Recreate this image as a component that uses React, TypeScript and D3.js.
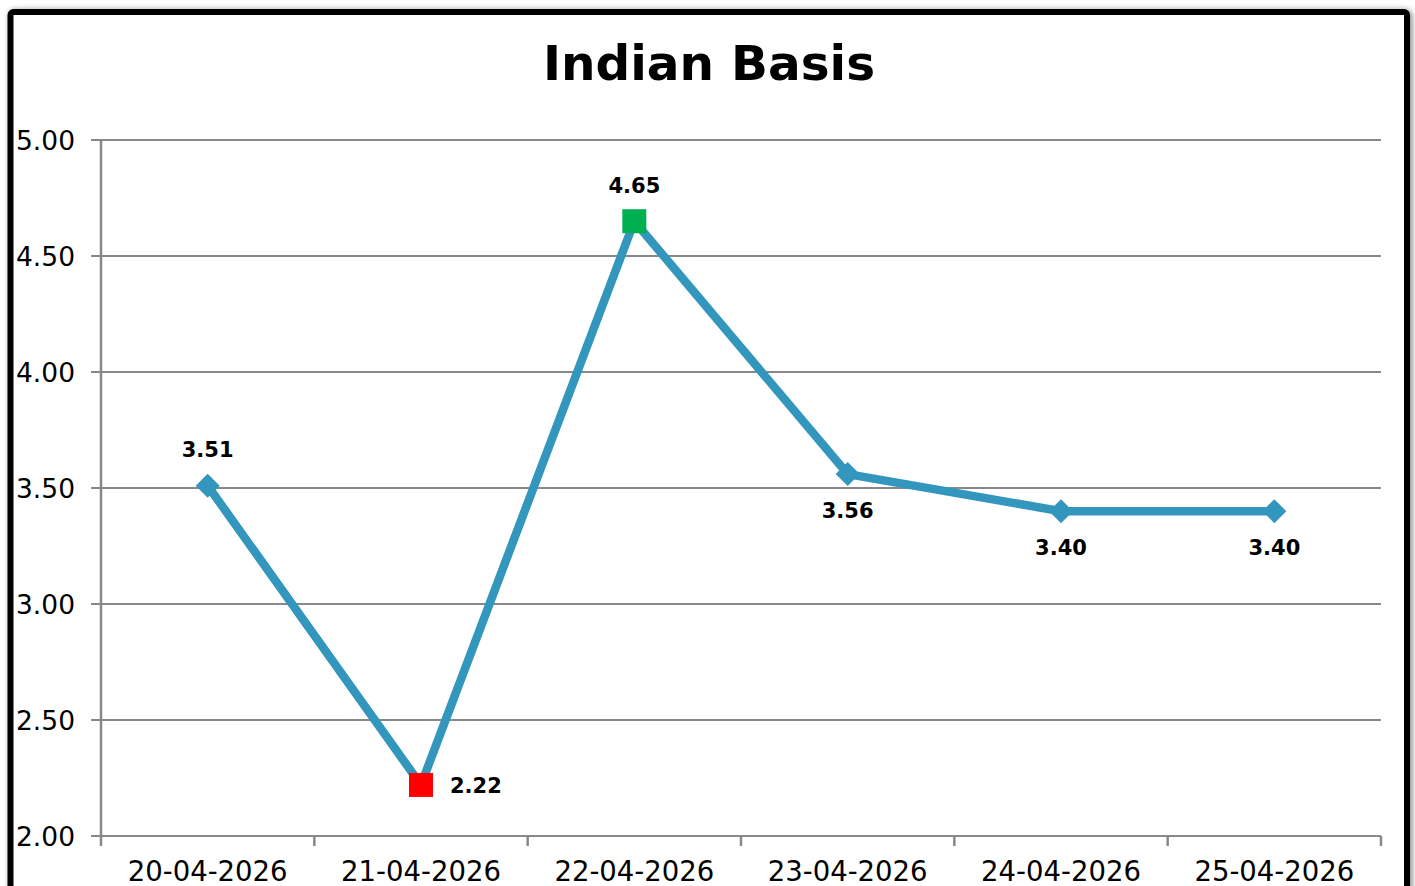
import { useEffect, useRef } from "react";
import * as d3 from "d3";

const dates = ["20-04-2026", "21-04-2026", "22-04-2026", "23-04-2026", "24-04-2026", "25-04-2026"];
const basis = [3.51, 2.22, 4.65, 3.56, 3.4, 3.4];
const yTicks = [2.0, 2.5, 3.0, 3.5, 4.0, 4.5, 5.0];
// where each value label sits relative to its marker
const labelSide = ["top", "right", "top", "bottom", "bottom", "bottom"];

const W = 1415;
const H = 886;
const FONT = "'DejaVu Sans', Verdana, sans-serif";

const App = () => {
  const ref = useRef<SVGSVGElement>(null);

  useEffect(() => {
    if (!ref.current) return;
    const svg = d3.select(ref.current);
    svg.selectAll("*").remove();

    const left = 101;
    const right = 1381;
    const top = 140;
    const bottom = 836;

    const x = d3.scaleBand<string>().domain(dates).range([left, right]);
    const y = d3.scaleLinear().domain([2, 5]).range([bottom, top]);
    const cx = (d: string) => (x(d) ?? 0) + x.bandwidth() / 2;

    const defs = svg.append("defs");
    const f = defs
      .append("filter")
      .attr("id", "shadow")
      .attr("x", "-5%")
      .attr("y", "-5%")
      .attr("width", "110%")
      .attr("height", "110%");
    f.append("feGaussianBlur").attr("in", "SourceAlpha").attr("stdDeviation", 3).attr("result", "blur");
    f.append("feOffset").attr("in", "blur").attr("dx", 2).attr("dy", 1).attr("result", "off");
    f.append("feComponentTransfer")
      .attr("in", "off")
      .attr("result", "soft")
      .append("feFuncA")
      .attr("type", "linear")
      .attr("slope", 0.5);
    const merge = f.append("feMerge");
    merge.append("feMergeNode").attr("in", "soft");
    merge.append("feMergeNode").attr("in", "SourceGraphic");

    svg.append("rect").attr("width", W).attr("height", H).attr("fill", "#fff");

    // frame
    svg
      .append("rect")
      .attr("x", 10.5)
      .attr("y", 12)
      .attr("width", 1396.5)
      .attr("height", 950)
      .attr("rx", 3)
      .attr("fill", "#fff")
      .attr("stroke", "#000")
      .attr("stroke-width", 6)
      .attr("filter", "url(#shadow)");

    // title
    svg
      .append("text")
      .attr("x", 709)
      .attr("y", 80)
      .attr("text-anchor", "middle")
      .attr("font-family", FONT)
      .attr("font-weight", "bold")
      .attr("font-size", 48.5)
      .text("Indian Basis");

    // gridlines
    svg
      .append("g")
      .selectAll("line")
      .data(yTicks)
      .enter()
      .append("line")
      .attr("x1", left - 10)
      .attr("x2", right)
      .attr("y1", (d) => y(d))
      .attr("y2", (d) => y(d))
      .attr("stroke", "#888")
      .attr("stroke-width", 2);

    // y axis line
    svg
      .append("line")
      .attr("x1", left)
      .attr("x2", left)
      .attr("y1", top)
      .attr("y2", bottom)
      .attr("stroke", "#888")
      .attr("stroke-width", 2.5);

    // x axis ticks at band edges
    const edges = dates.map((d) => x(d) ?? 0).concat([right]);
    svg
      .append("g")
      .selectAll("line")
      .data(edges)
      .enter()
      .append("line")
      .attr("x1", (d) => d)
      .attr("x2", (d) => d)
      .attr("y1", bottom)
      .attr("y2", bottom + 10)
      .attr("stroke", "#888")
      .attr("stroke-width", 2.5);

    // y tick labels
    svg
      .append("g")
      .selectAll("text")
      .data(yTicks)
      .enter()
      .append("text")
      .attr("x", 75)
      .attr("y", (d) => y(d))
      .attr("dy", "0.36em")
      .attr("text-anchor", "end")
      .attr("font-family", FONT)
      .attr("font-size", 26.5)
      .text((d) => d3.format(".2f")(d));

    // x tick labels
    svg
      .append("g")
      .selectAll("text")
      .data(dates)
      .enter()
      .append("text")
      .attr("x", (d) => cx(d))
      .attr("y", 881)
      .attr("text-anchor", "middle")
      .attr("font-family", FONT)
      .attr("font-size", 27.5)
      .text((d) => d);

    // line
    const pts = dates.map((d, i) => ({ d, v: basis[i], i }));
    const line = d3
      .line<{ d: string; v: number }>()
      .x((p) => cx(p.d))
      .y((p) => y(p.v));
    svg
      .append("path")
      .datum(pts)
      .attr("d", line)
      .attr("fill", "none")
      .attr("stroke", "#3396bd")
      .attr("stroke-width", 8.5)
      .attr("stroke-linejoin", "round");

    const maxI = d3.maxIndex(basis);
    const minI = d3.minIndex(basis);

    // markers
    const marks = svg
      .append("g")
      .selectAll("g")
      .data(pts)
      .enter()
      .append("g")
      .attr("transform", (p) => `translate(${cx(p.d)},${y(p.v)})`);

    marks
      .filter((p) => p.i !== maxI && p.i !== minI)
      .append("path")
      .attr("d", "M0,-12L12,0L0,12L-12,0Z")
      .attr("fill", "#3396bd");

    marks
      .filter((p) => p.i === maxI || p.i === minI)
      .append("rect")
      .attr("x", -12)
      .attr("y", -12)
      .attr("width", 24)
      .attr("height", 24)
      .attr("fill", (p) => (p.i === maxI ? "#00b050" : "#ff0000"));

    // value labels
    marks
      .append("text")
      .attr("font-family", FONT)
      .attr("font-weight", "bold")
      .attr("font-size", 21)
      .attr("dy", "0.36em")
      .attr("text-anchor", (p) => (labelSide[p.i] === "right" ? "start" : "middle"))
      .attr("x", (p) => (labelSide[p.i] === "right" ? 29 : 0))
      .attr("y", (p) =>
        labelSide[p.i] === "top" ? -36 : labelSide[p.i] === "bottom" ? 36 : 0
      )
      .text((p) => d3.format(".2f")(p.v));
  }, []);

  return (
    <svg
      ref={ref}
      width={W}
      height={H}
      style={{ position: "absolute", left: 0, top: 0, display: "block" }}
    ></svg>
  );
};

export default App;
